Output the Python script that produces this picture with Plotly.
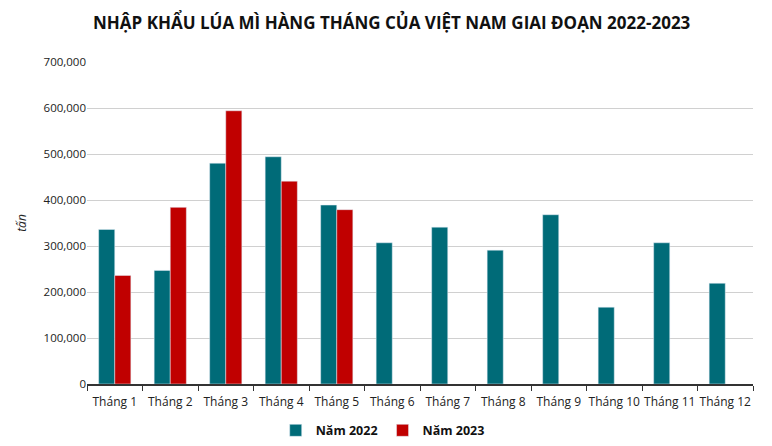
import plotly.graph_objects as go

# Dữ liệu nhập khẩu lúa mì (tấn)
thang = ["Tháng 1", "Tháng 2", "Tháng 3", "Tháng 4", "Tháng 5", "Tháng 6",
         "Tháng 7", "Tháng 8", "Tháng 9", "Tháng 10", "Tháng 11", "Tháng 12"]
nam_2022 = [336000, 247000, 480000, 494000, 389000, 307000,
            341000, 291000, 368000, 167000, 307000, 219000]
nam_2023 = [236000, 384000, 594000, 441000, 379000, None,
            None, None, None, None, None, None]

fig = go.Figure()
fig.add_trace(go.Bar(x=thang, y=nam_2022, name="Năm 2022", marker_color="#006B78"))
fig.add_trace(go.Bar(x=thang, y=nam_2023, name="Năm 2023", marker_color="#C00000"))

fig.update_layout(
    width=772, height=446,
    margin=dict(l=79, r=27, t=54, b=70, autoexpand=False),
    paper_bgcolor="white", plot_bgcolor="white",
    font=dict(family="Open Sans", size=12, color="#222"),
    title=dict(text="<b>NHẬP KHẨU LÚA MÌ HÀNG THÁNG CỦA VIỆT NAM GIAI ĐOẠN 2022-2023</b>",
               x=0.497, xanchor="center", y=0.966, yanchor="middle",
               font=dict(family="Open Sans", size=17, color="#111")),
    barmode="group", bargap=0.42, bargroupgap=0,
    legend=dict(orientation="h", x=0.444, xanchor="center", y=-0.145, yanchor="middle",
                font=dict(size=12.5, color="#111", weight="bold"), itemwidth=30),
    showlegend=True,
)
fig.update_xaxes(showline=True, linecolor="#333", linewidth=1.5,
                 ticks="outside", ticklen=5, tickcolor="#333",
                 tickson="boundaries", tickangle=0, ticklabelstandoff=6,
                 tickfont=dict(size=12))
fig.update_yaxes(range=[0, 700000], dtick=100000, tickformat=",",
                 gridcolor="#D0D0D0", zeroline=False, showline=False,
                 tickfont=dict(size=11.5),
                 title=dict(text="<i>tấn</i>", font=dict(size=12), standoff=14))

fig.write_html("out.html")
